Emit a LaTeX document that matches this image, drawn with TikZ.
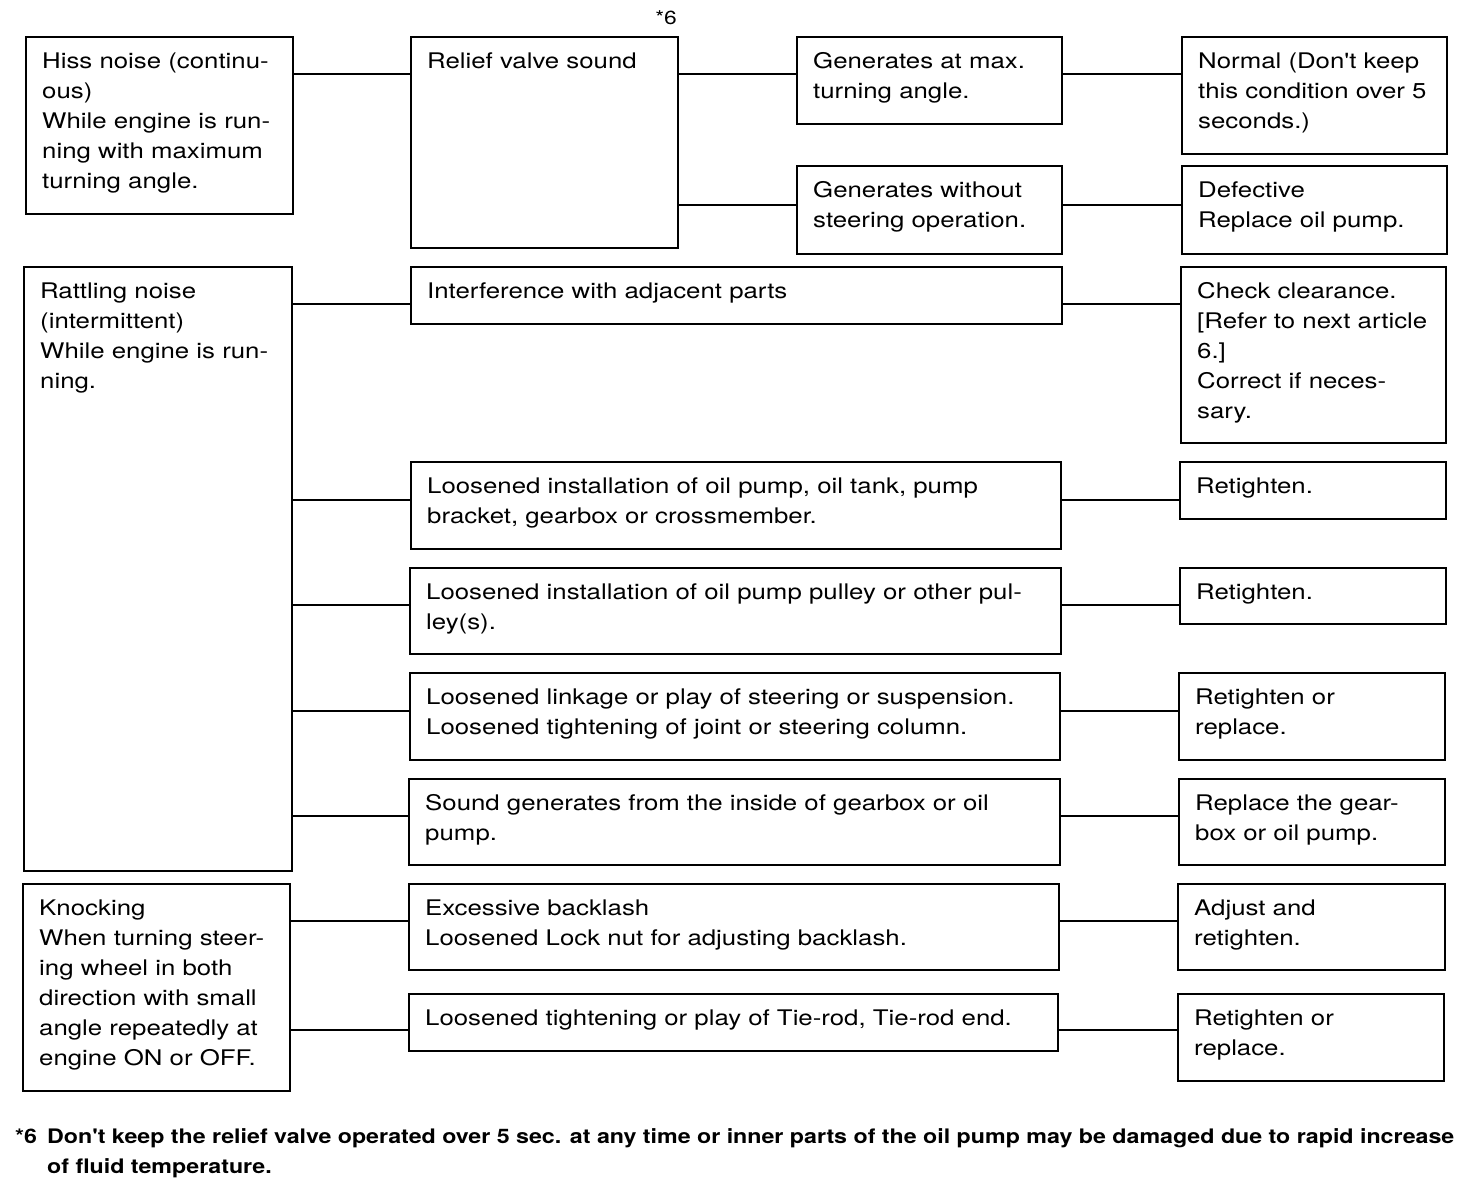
\documentclass[tikz,border=0pt]{standalone}
\usepackage{fontspec}
\setmainfont{TeX Gyre Heros}
\newfontfamily\boxfont[FakeStretch=1.2]{TeX Gyre Heros}
\newfontfamily\notefont[FakeStretch=1.16]{TeX Gyre Heros}
\newcommand\mybox[6]{%
  \node[bx, minimum width={#4-#2}, minimum height={#5-#3}] (#1) at (#2,#3) {};
  \node[tx] (#1t) at (#2+17,#3+16.5) {#6};}
\begin{document}
\begin{tikzpicture}[x=1pt,y=-1pt,
  bx/.style={draw, line width=1.8pt, inner sep=0pt, anchor=north west},
  tx/.style={anchor=north west, inner sep=0pt, align=left,
    font=\boxfont\fontsize{21.5}{30}\selectfont},
  ln/.style={line width=1.5pt}]
\useasboundingbox[fill=white] (0,0) rectangle (1472,1190);

\mybox{hiss}{25}{36}{292}{213}{Hiss noise (continu-\\ous)\\While engine is run-\\ning with maximum\\turning angle.}
\mybox{relief}{410}{36}{677}{247}{Relief valve sound}
\mybox{genmax}{796}{36}{1061}{123}{Generates at max.\\turning angle.}
\mybox{genwo}{796}{165}{1061}{253}{Generates without\\steering operation.}
\mybox{normal}{1181}{36}{1446}{153}{Normal (Don't keep\\this condition over 5\\seconds.)}
\mybox{defect}{1181}{165}{1446}{253}{Defective\\Replace oil pump.}
\mybox{rattle}{23}{266}{291}{870}{Rattling noise\\(intermittent)\\While engine is run-\\ning.}
\mybox{interf}{410}{266}{1061}{323}{Interference with adjacent parts}
\mybox{check}{1180}{266}{1445}{442}{Check clearance.\\{[}Refer to next article\\6.{]}\\Correct if neces-\\sary.}
\mybox{loosa}{410}{461}{1060}{548}{Loosened installation of oil pump, oil tank, pump\\bracket, gearbox or crossmember.}
\mybox{reta}{1179}{461}{1445}{518}{Retighten.}
\mybox{loosb}{409}{567}{1060}{653}{Loosened installation of oil pump pulley or other pul-\\ley(s).}
\mybox{retb}{1179}{567}{1445}{623}{Retighten.}
\mybox{link}{409}{672}{1059}{759}{Loosened linkage or play of steering or suspension.\\Loosened tightening of joint or steering column.}
\mybox{retc}{1178}{672}{1444}{759}{Retighten or\\replace.}
\mybox{sound}{408}{778}{1059}{864}{Sound generates from the inside of gearbox or oil\\pump.}
\mybox{repl}{1178}{778}{1444}{864}{Replace the gear-\\box or oil pump.}
\mybox{knock}{22}{883}{289}{1090}{Knocking\\When turning steer-\\ing wheel in both\\direction with small\\angle repeatedly at\\engine ON or OFF.}
\mybox{back}{408}{883}{1058}{969}{Excessive backlash\\Loosened Lock nut for adjusting backlash.}
\mybox{adj}{1177}{883}{1444}{969}{Adjust and\\retighten.}
\mybox{tie}{408}{993}{1057}{1050}{Loosened tightening or play of Tie-rod, Tie-rod end.}
\mybox{retd}{1177}{993}{1443}{1080}{Retighten or\\replace.}

\node[anchor=base east, inner sep=0pt, font=\boxfont\fontsize{19}{30}\selectfont] (star) at (677,25) {*6};

\draw[ln] (hiss.east |- 0,74) -- (relief.west |- 0,74);
\draw[ln] (relief.east |- 0,74) -- (genmax.west |- 0,74);
\draw[ln] (relief.east |- 0,205) -- (genwo.west |- 0,205);
\draw[ln] (genmax.east |- 0,74) -- (normal.west |- 0,74);
\draw[ln] (genwo.east |- 0,205) -- (defect.west |- 0,205);
\draw[ln] (rattle.east |- 0,304) -- (interf.west |- 0,304);
\draw[ln] (interf.east |- 0,304) -- (check.west |- 0,304);
\draw[ln] (rattle.east |- 0,500) -- (loosa.west |- 0,500);
\draw[ln] (loosa.east |- 0,500) -- (reta.west |- 0,500);
\draw[ln] (rattle.east |- 0,605) -- (loosb.west |- 0,605);
\draw[ln] (loosb.east |- 0,605) -- (retb.west |- 0,605);
\draw[ln] (rattle.east |- 0,711) -- (link.west |- 0,711);
\draw[ln] (link.east |- 0,711) -- (retc.west |- 0,711);
\draw[ln] (rattle.east |- 0,816) -- (sound.west |- 0,816);
\draw[ln] (sound.east |- 0,816) -- (repl.west |- 0,816);
\draw[ln] (knock.east |- 0,921) -- (back.west |- 0,921);
\draw[ln] (back.east |- 0,921) -- (adj.west |- 0,921);
\draw[ln] (knock.east |- 0,1030) -- (tie.west |- 0,1030);
\draw[ln] (tie.east |- 0,1030) -- (retd.west |- 0,1030);

\node[anchor=base west, inner sep=0pt, font=\notefont\bfseries\fontsize{20}{30}\selectfont] (fnmark) at (15,1143) {*6};
\node[anchor=north west, inner sep=0pt, align=left, font=\notefont\bfseries\fontsize{20}{30}\selectfont] (fn) at (47,1128.5) {Don't keep the relief valve operated over 5 sec. at any time or inner parts of the oil pump may be damaged due to rapid increase\\of fluid temperature.};
\end{tikzpicture}
\end{document}
